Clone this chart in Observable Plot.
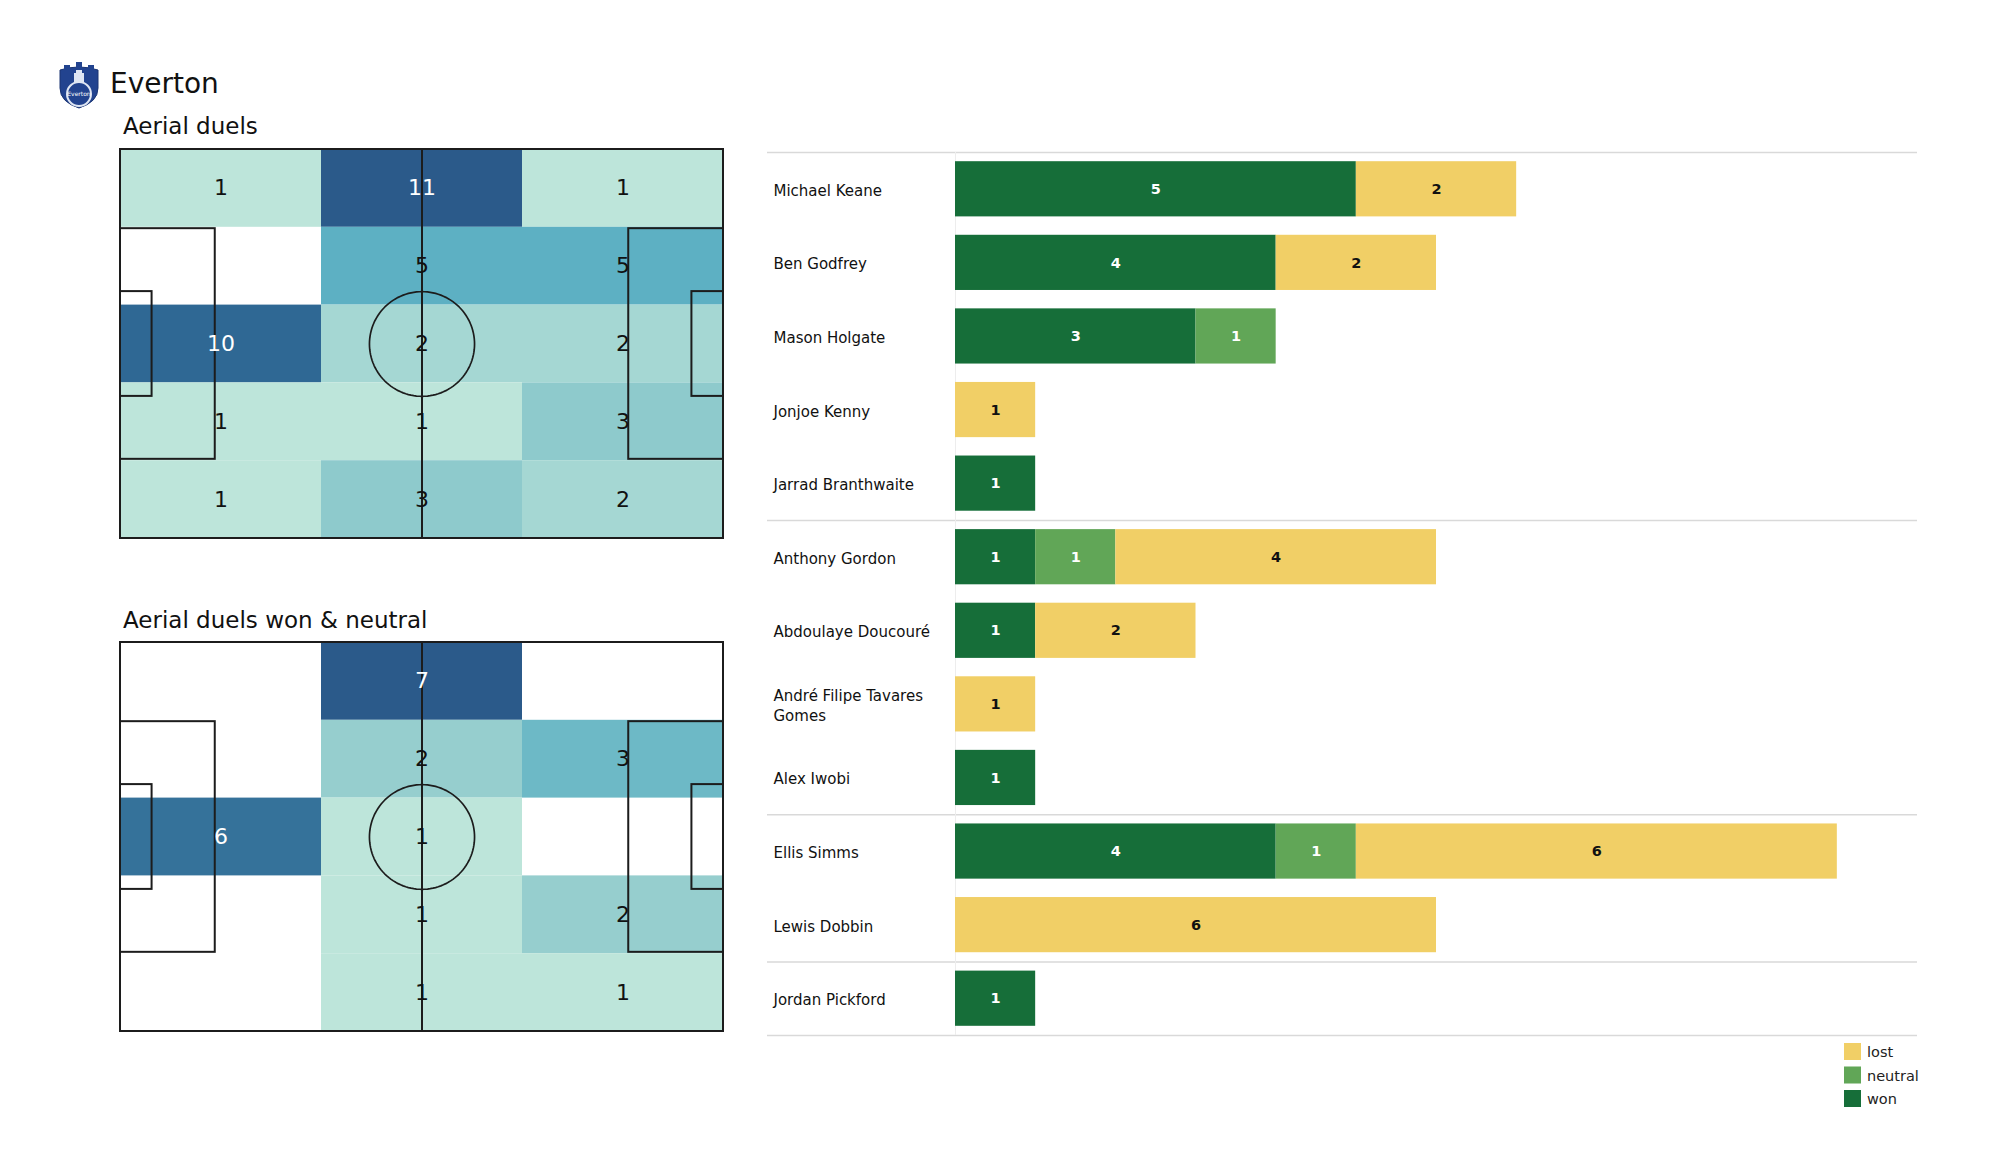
<!DOCTYPE html>
<html><head><meta charset="utf-8">
<script src="https://cdn.jsdelivr.net/npm/d3@7"></script>
<script src="https://cdn.jsdelivr.net/npm/@observablehq/plot@0.6"></script>
<style>
html,body{margin:0;padding:0;background:#fff;}
body{width:2000px;height:1175px;position:relative;overflow:hidden;font-family:"DejaVu Sans",sans-serif;}
.abs{position:absolute;}
.abs svg{background:transparent;}
</style></head><body>
<script>
// ---------- data ----------
const teamName = "Everton";
const titleAll = "Aerial duels";
const titleWon = "Aerial duels won & neutral";

// zone counts, rows top -> bottom, columns left -> right
const allDuelsGrid = [[1,11,1],[0,5,5],[10,2,2],[1,1,3],[1,3,2]];
const wonNeutralGrid = [[0,7,0],[0,2,3],[6,1,0],[0,1,2],[0,1,1]];

const players = ["Michael Keane","Ben Godfrey","Mason Holgate","Jonjoe Kenny","Jarrad Branthwaite","Anthony Gordon","Abdoulaye Doucouré","André Filipe Tavares Gomes","Alex Iwobi","Ellis Simms","Lewis Dobbin","Jordan Pickford"];
const positions = ["DF","DF","DF","DF","DF","MF","MF","MF","MF","FW","FW","GK"];
const wonCounts     = [5,4,3,0,1,1,1,0,1,4,0,1];
const neutralCounts = [0,0,1,0,0,1,0,0,0,1,0,0];
const lostCounts    = [2,2,0,1,0,4,2,1,0,6,6,0];

const results = ["won","neutral","lost"];
const resultColors = ["#166e39","#61a657","#f1cf66"];
const legendOrder = ["lost","neutral","won"];

const heatStops  = [0, 0.1, 0.2, 0.4, 0.9, 1];
const heatColors = ["#bde5da","#a5d7d3","#8ecacc","#5db0c3","#2f6894","#2b5a8a"];

// pitch geometry (metres)
const PITCH_L = 105, PITCH_W = 68;
const BOX_D = 16.5, BOX_W = 40.32, SIX_D = 5.5, SIX_W = 18.32, CIRCLE_R = 9.15;

const FONT = "DejaVu Sans";

// ---------- helpers ----------
function place(node, left, top) {
  const d = document.createElement("div");
  d.className = "abs";
  d.style.left = left + "px";
  d.style.top = top + "px";
  d.appendChild(node);
  document.body.appendChild(d);
}

function pitchChart(grid) {
  const nr = grid.length, nc = grid[0].length;
  const cw = PITCH_L / nc, rh = PITCH_W / nr;
  const cells = [];
  grid.forEach((row, r) => row.forEach((v, c) => {
    if (v > 0) cells.push({x1: c * cw, x2: (c + 1) * cw, y1: r * rh, y2: (r + 1) * rh, v});
  }));
  const max = d3.max(cells, d => d.v);
  const dark = d => (d.v - 1) / (max - 1) > 0.6;
  const cx = PITCH_L / 2, cy = PITCH_W / 2;
  const lines = [
    {x1: 0, x2: PITCH_L, y1: 0, y2: PITCH_W},
    {x1: 0, x2: BOX_D, y1: cy - BOX_W / 2, y2: cy + BOX_W / 2},
    {x1: PITCH_L - BOX_D, x2: PITCH_L, y1: cy - BOX_W / 2, y2: cy + BOX_W / 2},
    {x1: 0, x2: SIX_D, y1: cy - SIX_W / 2, y2: cy + SIX_W / 2},
    {x1: PITCH_L - SIX_D, x2: PITCH_L, y1: cy - SIX_W / 2, y2: cy + SIX_W / 2}
  ];
  const circle = d3.range(0, 360, 3).map(a => ({
    x: cx + CIRCLE_R * Math.cos(a * Math.PI / 180),
    y: cy + CIRCLE_R * Math.sin(a * Math.PI / 180)
  }));
  const lineStyle = {stroke: "#1c1c1c", strokeWidth: 2};
  return Plot.plot({
    width: 607, height: 393, marginTop: 2, marginBottom: 2, marginLeft: 2, marginRight: 2,
    style: {fontFamily: FONT, background: "transparent"},
    x: {domain: [0, PITCH_L], axis: null},
    y: {domain: [0, PITCH_W], axis: null, reverse: true},
    color: {type: "linear", domain: heatStops.map(t => 1 + t * (max - 1)), range: heatColors, interpolate: "rgb"},
    marks: [
      Plot.rect(cells, {x1: "x1", x2: "x2", y1: "y1", y2: "y2", fill: "v"}),
      Plot.rect(lines, {x1: "x1", x2: "x2", y1: "y1", y2: "y2", fill: "none", ...lineStyle}),
      Plot.ruleX([cx], {y1: 0, y2: PITCH_W, ...lineStyle}),
      Plot.line(circle, {x: "x", y: "y", curve: "linear-closed", stroke: "#1c1c1c", strokeWidth: 1.7}),
      Plot.text(cells, {x: d => (d.x1 + d.x2) / 2, y: d => (d.y1 + d.y2) / 2, text: d => dark(d) ? null : String(d.v), fill: "#111", fontSize: 22}),
      Plot.text(cells, {x: d => (d.x1 + d.x2) / 2, y: d => (d.y1 + d.y2) / 2, text: d => dark(d) ? String(d.v) : null, fill: "#ffffff", fontSize: 22})
    ]
  });
}

// ---------- header / titles / legend (static svg) ----------
const ns = "http://www.w3.org/2000/svg";
const deco = document.createElementNS(ns, "svg");
deco.setAttribute("width", 2000); deco.setAttribute("height", 1175);
deco.style.position = "absolute"; deco.style.left = "0"; deco.style.top = "0";
deco.innerHTML = `
<g transform="translate(56,61)">
  <path d="M4 9 Q23 3 42 9 L42 27 Q42 41 23 47 Q4 41 4 27 Z" fill="#22438f" stroke="#1a3472" stroke-width="1"/>
  <path d="M8 4 h6 v6 h-6z M20 1 h6 v8 h-6z M32 4 h6 v6 h-6z" fill="#22438f"/>
  <rect x="18" y="12" width="10" height="14" fill="#dfe6f3"/>
  <rect x="20" y="9" width="6" height="4" fill="#dfe6f3"/>
  <circle cx="23" cy="33" r="12" fill="#22438f" stroke="#dfe6f3" stroke-width="2"/>
  <text x="23" y="35" text-anchor="middle" font-family="${FONT}" font-size="6" fill="#fff">Everton</text>
</g>
<text x="110" y="93" font-family="${FONT}" font-size="28" fill="#111">${teamName}</text>
<text x="123" y="134" font-family="${FONT}" font-size="23" fill="#111">${titleAll}</text>
<text x="123" y="628" font-family="${FONT}" font-size="23" fill="#111">${titleWon.replace("&", "&amp;")}</text>
${legendOrder.map((r, i) => `
<rect x="1844" y="${1043 + i * 23.5}" width="17" height="17" fill="${resultColors[results.indexOf(r)]}"/>
<text x="1867" y="${1057 + i * 23.5}" font-family="${FONT}" font-size="14.5" fill="#222">${r}</text>`).join("")}
`;
document.body.appendChild(deco);

// ---------- pitches ----------
place(pitchChart(allDuelsGrid), 118, 147);
place(pitchChart(wonNeutralGrid), 118, 640);

// ---------- player bars ----------
const long = [];
players.forEach((name, i) => {
  [wonCounts[i], neutralCounts[i], lostCounts[i]].forEach((c, k) => {
    if (c > 0) long.push({name, result: results[k], count: c});
  });
});
const groupStarts = players.filter((p, i) => i === 0 || positions[i] !== positions[i - 1]);
const lastPlayer = [players[players.length - 1]];

const barH = 887, mTop = 2, mBottom = 2;
const step = (barH - mTop - mBottom) / players.length;
const yScale = {domain: players, axis: null, paddingInner: 0.25, paddingOuter: 0.125, round: false};
const sepStyle = {stroke: "#d9d9d9", strokeWidth: 1.5};

const labelPlot = Plot.plot({
  width: 188, height: barH, marginTop: mTop, marginBottom: mBottom, marginLeft: 0, marginRight: 0,
  style: {fontFamily: FONT, background: "transparent"},
  y: yScale,
  marks: [
    Plot.ruleY(groupStarts, {y: d => d, dy: -step / 2, ...sepStyle}),
    Plot.ruleY(lastPlayer, {y: d => d, dy: step / 2, ...sepStyle}),
    Plot.text(players, {y: d => d, text: d => d, frameAnchor: "left", dx: 6, textAnchor: "start", lineWidth: 11, lineHeight: 1.35, fontSize: 15, fill: "#111"})
  ]
});
place(labelPlot, 767, 150);

const barPlot = Plot.plot({
  width: 963, height: barH, marginTop: mTop, marginBottom: mBottom, marginLeft: 1, marginRight: 0,
  style: {fontFamily: FONT, background: "transparent"},
  x: {domain: [0, 12], axis: null},
  y: yScale,
  color: {domain: results, range: resultColors},
  marks: [
    Plot.ruleY(groupStarts, {y: d => d, dy: -step / 2, ...sepStyle}),
    Plot.ruleY(lastPlayer, {y: d => d, dy: step / 2, ...sepStyle}),
    Plot.ruleX([0], {stroke: "#ededed", strokeWidth: 1}),
    Plot.barX(long, Plot.stackX({x: "count", y: "name", fill: "result", order: results})),
    Plot.text(long, Plot.stackX({x: "count", y: "name", z: "result", order: results,
      text: d => d.result === "lost" ? null : String(d.count), fill: "#ffffff", fontWeight: "bold", fontSize: 14.5})),
    Plot.text(long, Plot.stackX({x: "count", y: "name", z: "result", order: results,
      text: d => d.result === "lost" ? String(d.count) : null, fill: "#111", fontWeight: "bold", fontSize: 14.5}))
  ]
});
place(barPlot, 954, 150);
</script>
</body></html>
